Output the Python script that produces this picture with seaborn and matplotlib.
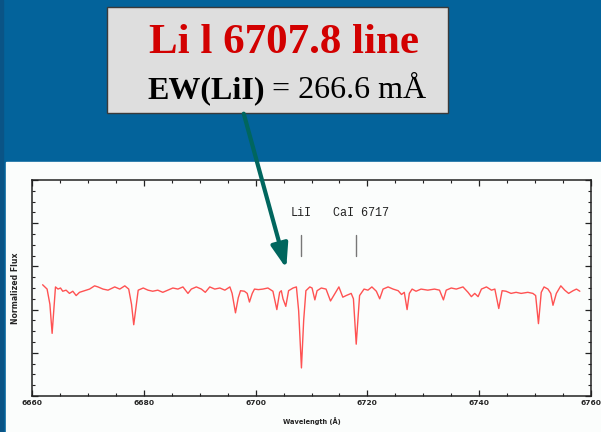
import matplotlib
matplotlib.use("Agg")
import matplotlib.pyplot as plt
from matplotlib.patches import Rectangle, FancyArrowPatch
from matplotlib.ticker import MultipleLocator, NullFormatter
import seaborn as sns
import pandas as pd

# Observed spectrum around the Li I 6707.8 A resonance line (normalized flux)
wavelength = [
    6661.9, 6662.3, 6662.7, 6663.2, 6663.6, 6663.9, 6664.2, 6664.65, 6665.1, 6665.5,
    6666.1, 6666.7, 6667.3, 6667.9, 6668.5, 6669.1, 6669.7, 6670.3, 6671.2, 6671.8,
    6672.7, 6673.6, 6674.8, 6675.7, 6676.6, 6677.3, 6677.8, 6678.2, 6678.6, 6679.0,
    6679.9, 6680.75, 6681.6, 6682.5, 6683.4, 6684.3, 6685.2, 6686.1, 6687.0, 6687.9,
    6688.5, 6689.4, 6690.3, 6691.0, 6691.8, 6692.7, 6693.6, 6694.5, 6695.4, 6695.8,
    6696.4, 6696.9, 6697.3, 6698.0, 6698.5, 6698.9, 6699.4, 6699.8, 6700.5, 6701.3,
    6702.2, 6703.1, 6703.8, 6704.3, 6704.6, 6704.9, 6705.4, 6705.9, 6706.7, 6707.3,
    6707.7, 6708.2, 6708.6, 6709.0, 6709.7, 6710.1, 6710.6, 6711.0, 6711.75, 6712.6,
    6713.4, 6714.2, 6714.9, 6715.6, 6716.2, 6717.1, 6717.5, 6718.0, 6718.3, 6718.6,
    6719.4, 6720.1, 6720.8, 6721.6, 6722.2, 6722.8, 6723.7, 6724.6, 6725.5, 6726.1,
    6726.6, 6727.1, 6727.5, 6728.0, 6728.7, 6729.6, 6730.8, 6732.0, 6732.9, 6733.6,
    6734.1, 6735.0, 6735.9, 6737.1, 6738.0, 6738.6, 6739.2, 6739.8, 6740.4, 6741.3,
    6742.2, 6742.8, 6743.5, 6744.1, 6744.8, 6745.7, 6746.6, 6747.5, 6748.7, 6749.6,
    6750.1, 6750.6, 6751.1, 6751.6, 6752.3, 6752.8, 6753.2, 6753.8, 6754.6, 6755.3,
    6756.0, 6756.8, 6757.4, 6758.0,
]
flux = [
    1.03, 1.01, 0.99, 0.85, 0.58, 0.79, 1.01, 0.99, 1.00, 0.97,
    0.98, 0.95, 0.97, 0.93, 0.96, 0.97, 0.98, 0.99, 1.02, 1.01,
    0.99, 0.98, 1.01, 0.99, 1.02, 0.99, 0.85, 0.66, 0.82, 0.98,
    1.00, 0.98, 0.97, 0.98, 0.96, 0.98, 1.00, 0.99, 1.01, 0.95,
    0.99, 1.01, 0.99, 0.96, 1.01, 0.99, 1.00, 0.98, 1.01, 0.95,
    0.77, 0.91, 0.975, 0.97, 0.95, 0.87, 0.95, 0.99, 0.985, 0.99,
    1.00, 0.97, 0.80, 0.96, 0.975, 0.90, 0.83, 0.975, 1.00, 1.01,
    0.79, 0.26, 0.70, 0.975, 1.01, 1.00, 0.89, 0.975, 1.00, 0.99,
    0.88, 0.95, 1.01, 0.915, 0.93, 0.95, 0.90, 0.48, 0.70, 0.93,
    0.99, 0.98, 1.01, 0.97, 0.90, 0.99, 1.01, 0.99, 0.975, 0.94,
    0.96, 0.80, 0.95, 0.99, 0.97, 0.99, 0.98, 0.99, 0.98, 0.89,
    0.98, 1.00, 0.99, 1.01, 0.96, 0.92, 0.95, 0.92, 0.99, 1.01,
    0.98, 0.99, 0.81, 0.975, 0.97, 0.95, 0.96, 0.95, 0.96, 0.95,
    0.93, 0.67, 0.96, 1.01, 0.99, 0.95, 0.84, 0.95, 1.02, 0.98,
    0.95, 0.975, 0.99, 0.97,
]

# Identified lines: label, marker wavelength, label anchor wavelength
line_labels = ["LiI", "CaI 6717"]
line_marks = [6708.1, 6718.05]
label_pos = [6706.3, 6713.8]

x_ticks = [6660, 6680, 6700, 6720, 6740, 6760]

title_text = "Li l 6707.8 line"
ew_label = "EW(LiI)"
ew_value = " = 266.6 mÅ"

W, H = 601, 432
sns.set_theme(style="ticks")
fig = plt.figure(figsize=(W / 100, H / 100), dpi=100)

# Slide background (pixel coordinates)
bg = fig.add_axes([0, 0, 1, 1], zorder=0)
bg.set_xlim(0, W)
bg.set_ylim(H, 0)
bg.axis("off")
bg.add_patch(Rectangle((0, 0), W, H, color="#03639b"))
bg.add_patch(Rectangle((0, 0), 3, H, color="#0a5486"))
bg.add_patch(Rectangle((6, 162), W - 6, H - 162, color="#fbfdfc"))

# Spectrum panel
ax = fig.add_axes([32 / W, 1 - 396 / H, (591 - 32) / W, (396 - 180) / H], zorder=1)
ax.set_facecolor("#fbfdfc")
df = pd.DataFrame({"Wavelength": wavelength, "Flux": flux})
sns.lineplot(data=df, x="Wavelength", y="Flux", ax=ax, color="#ff5252",
             linewidth=1.0, sort=False, estimator=None)

ax.set_xlim(6660, 6760)
ax.set_ylim(0, 2)
ax.set_xticks(x_ticks)
ax.set_xticklabels([str(t) for t in x_ticks], fontsize=5.4, fontweight="bold")
ax.xaxis.set_minor_locator(MultipleLocator(5))
ax.yaxis.set_major_locator(MultipleLocator(0.4))
ax.yaxis.set_minor_locator(MultipleLocator(0.1))
ax.yaxis.set_major_formatter(NullFormatter())
ax.tick_params(which="both", direction="in", top=True, right=True, color="#222222")
ax.tick_params(which="major", length=4, width=0.9, pad=3)
ax.tick_params(which="minor", length=2.2, width=0.8)
for s in ax.spines.values():
    s.set_linewidth(1.1)
    s.set_color("#222222")
ax.set_xlabel("Wavelength (Å)", fontsize=4.8, fontweight="bold", labelpad=8)
ax.set_ylabel("Normalized Flux", fontsize=5.6, fontweight="bold", labelpad=5)

for lab, xm, xl in zip(line_labels, line_marks, label_pos):
    ax.plot([xm, xm], [1.30, 1.49], color="#777777", linewidth=1.0)
    ax.text(xl, 1.69, lab, fontsize=8.5, family="Liberation Mono",
            ha="left", va="center", color="#222222")

# Annotation layer on top (pixel coordinates)
ov = fig.add_axes([0, 0, 1, 1], zorder=3)
ov.set_xlim(0, W)
ov.set_ylim(H, 0)
ov.axis("off")
ov.patch.set_alpha(0)
ov.add_patch(Rectangle((107, 7), 341, 106, facecolor="#dedede",
                       edgecolor="#3a3a3a", linewidth=1.0))
ov.text(284, 43, title_text, fontsize=31, fontweight="bold",
        family="Liberation Serif", color="#d20000", ha="center", va="center")
t1 = ov.text(147, 91, ew_label, fontsize=23, fontweight="bold",
             family="Liberation Serif", color="black", ha="left", va="center")
ov.annotate(ew_value, xy=(1, 0), xycoords=t1, fontsize=23,
            family="Liberation Serif", color="black", ha="left", va="bottom")

arrow = FancyArrowPatch((243, 111), (287, 271), arrowstyle="-|>,head_length=9,head_width=3.2",
                        mutation_scale=1.6, color="#00665e", linewidth=3.0)
ov.add_patch(arrow)

fig.savefig("out.png", dpi=100)
